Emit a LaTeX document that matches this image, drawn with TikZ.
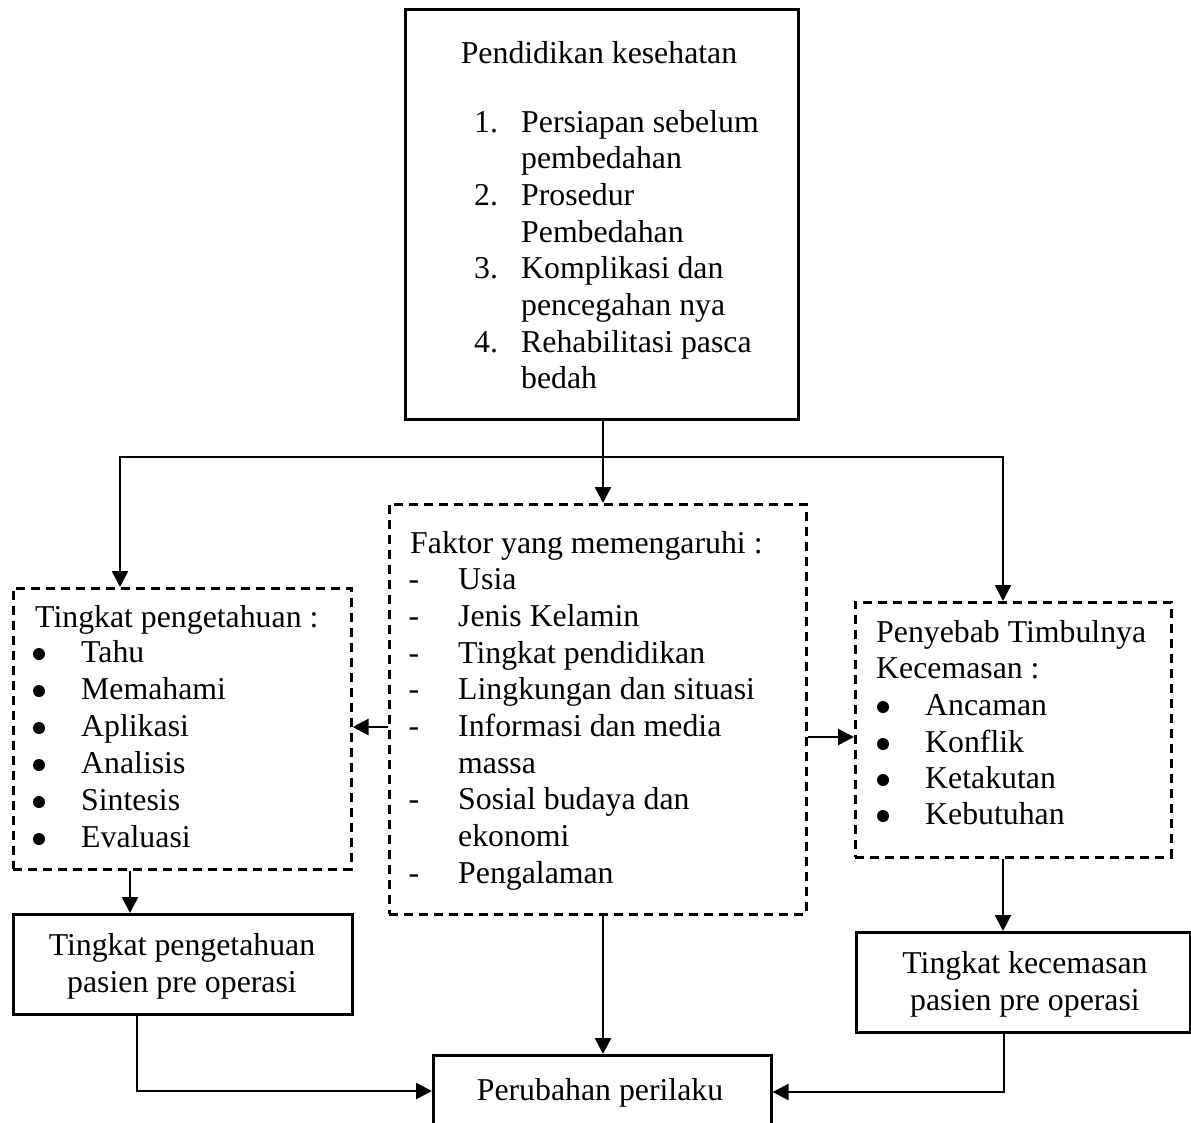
\documentclass[tikz,border=0pt]{standalone}
\usepackage{fontspec}
\setmainfont{Liberation Serif}
\usetikzlibrary{arrows.meta}
\begin{document}
\begin{tikzpicture}[x=1pt,y=-1pt,
  font=\fontsize{31.8}{38}\selectfont,
  sbox/.style={draw, line width=2.6pt, rectangle, inner sep=0pt, anchor=north west},
  dbox/.style={sbox, dash pattern=on 9pt off 6pt},
  arr/.style={-{Triangle[length=16pt,width=16pt]}, line width=2.6pt},
  txt/.style={anchor=base west, inner sep=0pt},
  ctxt/.style={anchor=base, inner sep=0pt},
  bul/.style={circle, fill, inner sep=0pt, minimum size=12pt}]
\useasboundingbox (0,0) rectangle (1191,1122);
\clip (0,0) rectangle (1191,1122);
\fill[white] (0,0) rectangle (1191,1122);

% boxes
\node[sbox, minimum width=393pt, minimum height=410pt] (top) at (404,8) {};
\node[dbox, minimum width=338pt, minimum height=281pt] (lbox) at (12,587) {};
\node[dbox, minimum width=417pt, minimum height=410pt] (mid) at (388,503) {};
\node[dbox, minimum width=316pt, minimum height=255pt] (rbox) at (854,601) {};
\node[sbox, minimum width=339pt, minimum height=100pt] (lpk) at (12,913) {};
\node[sbox, minimum width=334pt, minimum height=100pt] (rkc) at (855,931) {};
\node[sbox, minimum width=338pt, minimum height=120pt] (bot) at (432,1054) {};

% top box text
\node[ctxt] (t0) at (599,63) {Pendidikan kesehatan};
\node[txt] (n1) at (474,132) {1.};
\node[txt] (t1) at (521,132) {Persiapan sebelum};
\node[txt] (t1b) at (521,168) {pembedahan};
\node[txt] (n2) at (474,205) {2.};
\node[txt] (t2) at (521,205) {Prosedur};
\node[txt] (t2b) at (521,242) {Pembedahan};
\node[txt] (n3) at (474,278) {3.};
\node[txt] (t3) at (521,278) {Komplikasi dan};
\node[txt] (t3b) at (521,315) {pencegahan nya};
\node[txt] (n4) at (474,352) {4.};
\node[txt] (t4) at (521,352) {Rehabilitasi pasca};
\node[txt] (t4b) at (521,388) {bedah};

% left dashed box text
\node[txt] (l0) at (35,627) {Tingkat pengetahuan :};
\foreach \y/\w [count=\i] in {662/Tahu,699/Memahami,736/Aplikasi,773/Analisis,810/Sintesis,847/Evaluasi}{
  \node[bul] (lb\i) at (39,\y-8) {};
  \node[txt] (li\i) at (81,\y) {\w};
}

% middle dashed box text
\node[txt] (m0) at (410,553) {Faktor yang memengaruhi :};
\foreach \y [count=\i] in {589,626,663,699,736,809,883}{
  \node[ctxt] (md\i) at (414,\y) {-};
}
\node[txt] (m1) at (458,589) {Usia};
\node[txt] (m2) at (458,626) {Jenis Kelamin};
\node[txt] (m3) at (458,663) {Tingkat pendidikan};
\node[txt] (m4) at (458,699) {Lingkungan dan situasi};
\node[txt] (m5) at (458,736) {Informasi dan media};
\node[txt] (m5b) at (458,773) {massa};
\node[txt] (m6) at (458,809) {Sosial budaya dan};
\node[txt] (m6b) at (458,846) {ekonomi};
\node[txt] (m7) at (458,883) {Pengalaman};

% right dashed box text
\node[txt] (r0) at (876,642) {Penyebab Timbulnya};
\node[txt] (r0b) at (876,678) {Kecemasan :};
\foreach \y/\w [count=\i] in {715/Ancaman,752/Konflik,788/Ketakutan,824/Kebutuhan}{
  \node[bul] (rb\i) at (883,\y-8) {};
  \node[txt] (ri\i) at (925,\y) {\w};
}

% lower boxes text
\node[ctxt] (p1) at (182,955) {Tingkat pengetahuan};
\node[ctxt] (p2) at (182,992) {pasien pre operasi};
\node[ctxt] (k1) at (1025,973) {Tingkat kecemasan};
\node[ctxt] (k2) at (1025,1010) {pasien pre operasi};
\node[ctxt] (b1) at (600,1100) {Perubahan perilaku};

% connectors
\coordinate (jn) at (603,457);
\draw[arr] (top.south -| jn) -- (mid.north -| jn);
\draw[arr] (jn) -| (lbox.north -| 120,0);
\draw[arr] (jn) -| (rbox.north -| 1003,0);
\draw[arr] (mid.west |- 0,727) -- (lbox.east |- 0,727);
\draw[arr] (mid.east |- 0,737) -- (rbox.west |- 0,737);
\draw[arr] (lbox.south -| 130,0) -- (lpk.north -| 130,0);
\draw[arr] (rbox.south -| 1003,0) -- (rkc.north -| 1003,0);
\draw[arr] (mid.south -| 603,0) -- (bot.north -| 603,0);
\draw[arr] (lpk.south -| 137,0) |- (bot.west |- 0,1091);
\draw[arr] (rkc.south -| 1004,0) |- (bot.east |- 0,1092);
\end{tikzpicture}
\end{document}
